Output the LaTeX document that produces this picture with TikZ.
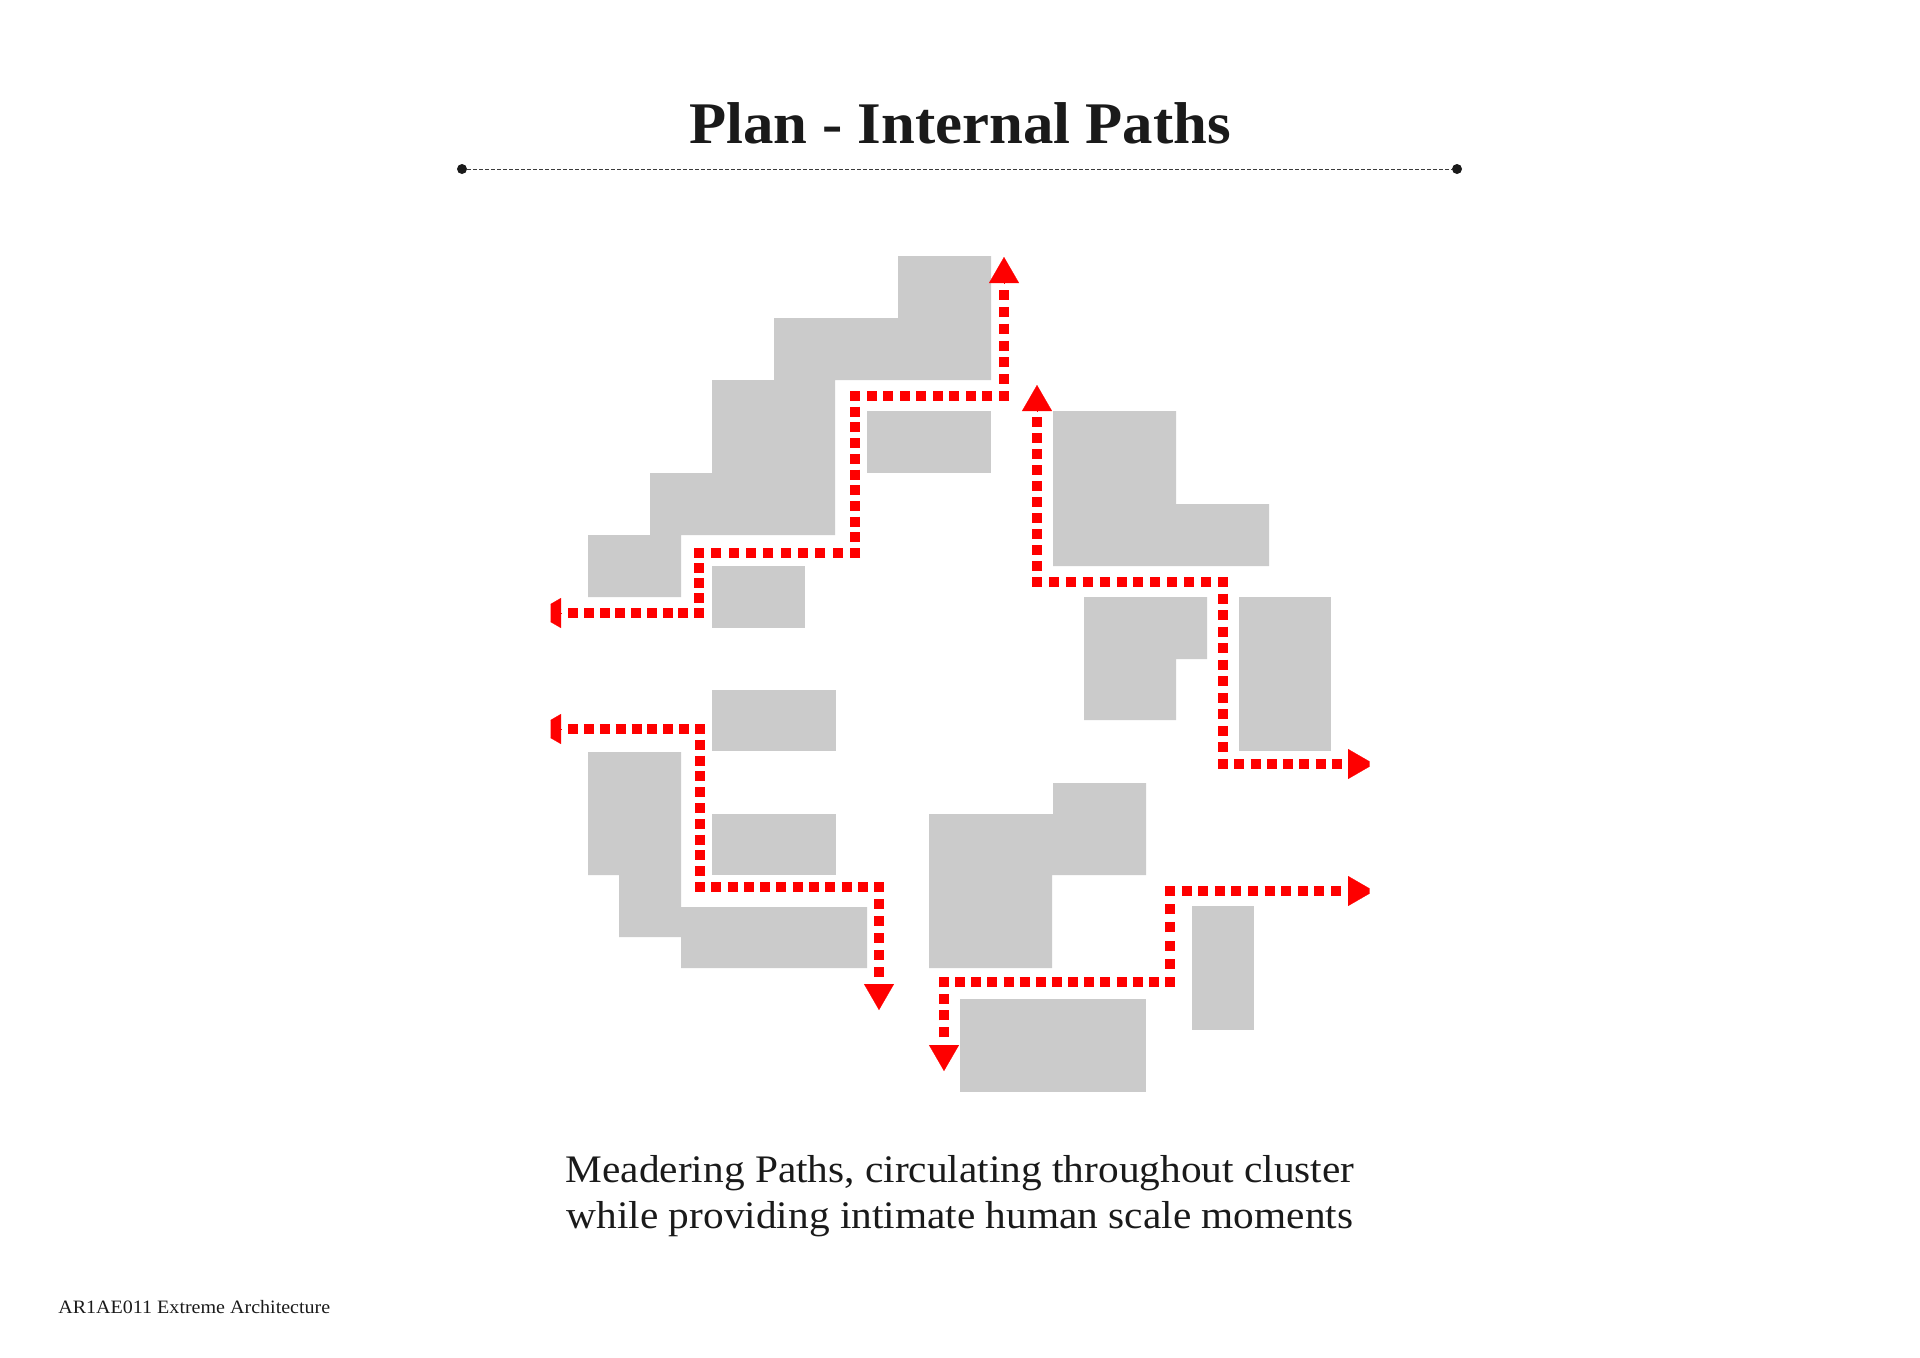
\documentclass[tikz,border=0pt]{standalone}
\usepackage{fontspec}
\setmainfont{Liberation Serif}
\newfontfamily\titlefont[FakeStretch=1.03]{Liberation Serif}
\newfontfamily\capfont[FakeStretch=1.06]{Liberation Serif}
\usetikzlibrary{
    positioning,
    arrows.meta,
}
\definecolor{bldggray}{HTML}{CBCBCB}
\definecolor{pathred}{HTML}{FE0000}
\definecolor{inkblack}{HTML}{1A1A1A}
\tikzset{
    % Buildings
    bldg/.style={fill=bldggray},
    % Red walking paths
    walk/.style={draw=pathred, line width=5pt, dash pattern=on 5pt off #1pt,
                 shorten <=-2.5pt, shorten >=-2.5pt},
    walk head/.style={draw=pathred, line width=0.1pt, -{Triangle[length=13pt, width=15pt, fill=pathred]}},
    % Text
    heading/.style={font=\titlefont\bfseries\fontsize{29.5}{34}\selectfont, text=inkblack, inner sep=0pt},
    caption/.style={font=\capfont\fontsize{19.5}{23}\selectfont, text=inkblack, align=center, inner sep=0pt},
    footer/.style={font=\capfont\fontsize{9.45}{11}\selectfont, text=inkblack, inner sep=0pt},
    rule dot/.style={circle, fill=inkblack, minimum size=5pt, inner sep=0pt},
    rule line/.style={draw=inkblack!85, line width=0.5pt, dash pattern=on 2pt off 1pt},
}
\begin{document}
\begin{tikzpicture}[x=0.5pt, y=-0.5pt]
    \useasboundingbox (0, 0) rectangle (1920, 1357);

    % Title
    \node[heading, anchor=base] (title) at (960, 143) {Plan - Internal Paths};
    \node[rule dot] (dotL) at (462, 169) {};
    \node[rule dot] (dotR) at (1457, 169) {};
    \draw[rule line] (dotL) -- (dotR);

    % Buildings, north-west
    \fill[bldg] (898, 256) -- (991, 256) -- (991, 380) -- (835, 380) -- (835, 535) -- (681, 535)
        -- (681, 597) -- (588, 597) -- (588, 535) -- (650, 535) -- (650, 473) -- (712, 473)
        -- (712, 380) -- (774, 380) -- (774, 318) -- (898, 318) -- cycle;
    \fill[bldg] (867, 411) rectangle (991, 473);
    \fill[bldg] (712, 566) rectangle (805, 628);

    % Buildings, north-east
    \fill[bldg] (1053, 411) -- (1176, 411) -- (1176, 504) -- (1269, 504) -- (1269, 566) -- (1053, 566) -- cycle;
    \fill[bldg] (1084, 597) -- (1207, 597) -- (1207, 659) -- (1176, 659) -- (1176, 720) -- (1084, 720) -- cycle;
    \fill[bldg] (1239, 597) rectangle (1331, 751);

    % Buildings, south-west
    \fill[bldg] (712, 690) rectangle (836, 751);
    \fill[bldg] (712, 814) rectangle (836, 875);
    \fill[bldg] (588, 752) -- (681, 752) -- (681, 907) -- (867, 907) -- (867, 968) -- (681, 968)
        -- (681, 937) -- (619, 937) -- (619, 875) -- (588, 875) -- cycle;

    % Buildings, south-east
    \fill[bldg] (929, 814) -- (1053, 814) -- (1053, 783) -- (1146, 783) -- (1146, 875) -- (1052, 875)
        -- (1052, 968) -- (929, 968) -- cycle;
    \fill[bldg] (960, 999) rectangle (1146, 1092);
    \fill[bldg] (1192, 906) rectangle (1254, 1030);

    % Path corners
    \coordinate (n1) at (1004, 295);
    \coordinate (n2) at (1004, 396);
    \coordinate (n3) at (855, 396);
    \coordinate (n4) at (855, 553);
    \coordinate (n5) at (699, 553);
    \coordinate (n6) at (699, 613);
    \coordinate (n7) at (573, 613);
    \coordinate (e1) at (1037, 422);
    \coordinate (e2) at (1037, 582);
    \coordinate (e3) at (1223, 582);
    \coordinate (e4) at (1223, 764);
    \coordinate (e5) at (1337, 764);
    \coordinate (w1) at (573, 729);
    \coordinate (w2) at (700, 729);
    \coordinate (w3) at (700, 887);
    \coordinate (w4) at (879, 887);
    \coordinate (w5) at (879, 972);
    \coordinate (s1) at (944, 1032);
    \coordinate (s2) at (944, 982);
    \coordinate (s3) at (1170, 982);
    \coordinate (s4) at (1170, 891);
    \coordinate (s5) at (1336, 891);

    % Head bases and tips
    \coordinate (nb) at (1004, 283);   \coordinate (nt) at (1004, 257);
    \coordinate (ob) at (561, 613);    \coordinate (ot) at (535, 613);
    \coordinate (eb) at (1037, 411);   \coordinate (et) at (1037, 385);
    \coordinate (fb) at (1348, 764);   \coordinate (ft) at (1374, 764);
    \coordinate (wb) at (561, 729);    \coordinate (wt) at (535, 729);
    \coordinate (xb) at (879, 984);    \coordinate (xt) at (879, 1010);
    \coordinate (sb) at (944, 1045);   \coordinate (st) at (944, 1071);
    \coordinate (tb) at (1348, 891);   \coordinate (tt) at (1374, 891);

    % Paths
    \begin{scope}
        \clip (550.5, 240) rectangle (1369.5, 1090);
        \foreach \from/\to/\gap in {n1/n2/3.42, n2/n3/3.28, n3/n4/2.85, n4/n5/3.67, n5/n6/2.5, n6/n7/2.87,
                                    e1/e2/3, e2/e3/3.45, e3/e4/3.27, e4/e5/3.14,
                                    w1/w2/2.94, w2/w3/2.9, w3/w4/3.14, w4/w5/3.5,
                                    s1/s2/3.33, s2/s3/3.07, s3/s4/4.1, s4/s5/3.3}
            \draw[walk=\gap] (\from) -- (\to);
        \foreach \from/\to in {nb/nt, ob/ot, eb/et, fb/ft, wb/wt, xb/xt, sb/st, tb/tt}
            \draw[walk head] (\from) -- (\to);
    \end{scope}

    % Captions
    \node[caption, anchor=base] (cap1) at (960, 1182) {Meadering Paths, circulating throughout cluster};
    \node[caption, anchor=base] (cap2) at (960, 1228) {while providing intimate human scale moments};
    \node[footer, anchor=base west] (foot) at (58, 1313) {AR1AE011 Extreme Architecture};
\end{tikzpicture}
\end{document}
